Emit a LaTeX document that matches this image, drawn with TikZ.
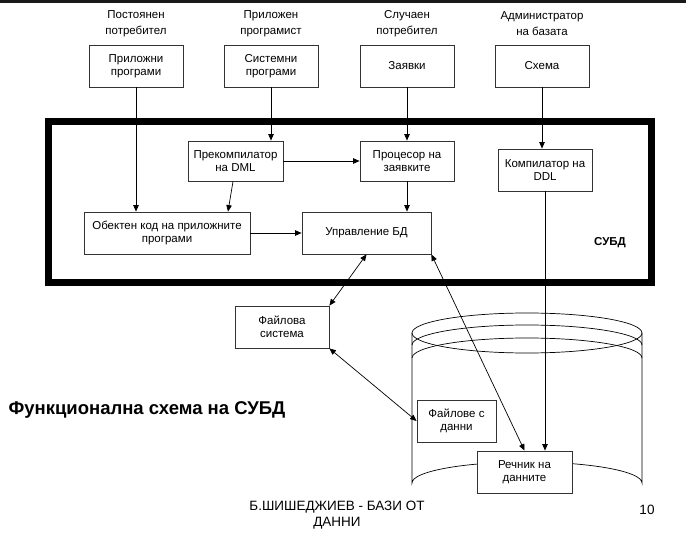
\documentclass[tikz,border=0pt]{standalone}
\usepackage{fontspec}
\setmainfont{Liberation Sans}
\usetikzlibrary{arrows.meta}

\begin{document}
\begin{tikzpicture}[x=1pt,y=-1pt,
    procbox/.style={shape=rectangle,draw=black!80,line width=0.8pt,fill=white,align=center,inner sep=1pt,font=\fontsize{11.5}{13.5}\selectfont},
    userlbl/.style={align=center,font=\fontsize{11.5}{16}\selectfont},
    flow/.style={line width=0.7pt,-{Triangle[length=6.5pt,width=5.5pt]}},
    bothflow/.style={line width=0.7pt,{Triangle[length=6.5pt,width=5.5pt]}-{Triangle[length=6.5pt,width=5.5pt]}}]
    \useasboundingbox (0,0) rectangle (686,540);
    \fill[black!90] (0,0) rectangle (686,3);
    % users and their inputs
    \node[userlbl] (u1) at (136,24) {Постоянен\\потребител};
    \node[userlbl] (u2) at (271,24) {Приложен\\програмист};
    \node[userlbl] (u3) at (407,24) {Случаен\\потребител};
    \node[userlbl] (u4) at (542,24) {Администратор\\на базата};
    \node[procbox,minimum width=94,minimum height=42] (app) at (136,66) {Приложни\\програми};
    \node[procbox,minimum width=94,minimum height=42] (sys) at (271,66) {Системни\\програми};
    \node[procbox,minimum width=94,minimum height=42] (qry) at (407,66) {Заявки};
    \node[procbox,minimum width=94,minimum height=42] (sch) at (542,66) {Схема};
    % the DBMS frame
    \draw[line width=7pt] (48.5,121.5) rectangle (651.5,282.5);
    \node[font=\bfseries\fontsize{11.5}{13}\selectfont] (dbms) at (610,243) {СУБД};
    \node[procbox,minimum width=95,minimum height=40] (prek) at (235.5,161) {Прекомпилатор\\на DML};
    \node[procbox,minimum width=94,minimum height=40] (proc) at (407,161) {Процесор на\\заявките};
    \node[procbox,minimum width=94,minimum height=42] (comp) at (545,170) {Компилатор на\\DDL};
    \node[procbox,minimum width=166,minimum height=42] (obj) at (167,233) {Обектен код на приложните\\програми};
    \node[procbox,minimum width=129,minimum height=42] (upr) at (366.5,233) {Управление БД};
    % storage
    \draw[line width=0.7pt,fill=white] (412,333) -- (412,483) arc[start angle=180,end angle=360,x radius=115,y radius=21] -- (642,333);
    \draw[line width=0.7pt] (527,333) ellipse[x radius=115,y radius=20];
    \draw[line width=0.7pt] (412,345) arc[start angle=180,end angle=360,x radius=115,y radius=20];
    \draw[line width=0.7pt] (412,358) arc[start angle=180,end angle=360,x radius=115,y radius=20];
    \node[procbox,minimum width=94,minimum height=42] (fs) at (282,327) {Файлова\\система};
    \node[procbox,minimum width=79,minimum height=42] (fd) at (456.5,421) {Файлове с\\данни};
    \node[procbox,minimum width=95,minimum height=42] (rech) at (524.5,472) {Речник на\\данните};
    % connectors
    \draw[flow] (app.south) -- (app.south |- obj.north);
    \draw[flow] (sys.south) -- (sys.south |- prek.north);
    \draw[flow] (qry.south) -- (qry.south |- proc.north);
    \draw[flow] (sch.south) -- (sch.south |- comp.north);
    \draw[flow] (prek.east) -- (proc.west);
    \draw[flow] ([xshift=-2.5]prek.south) -- ([xshift=61]obj.north);
    \draw[flow] (proc.south) -- (proc.south |- upr.north);
    \draw[flow] (obj.east) -- (upr.west);
    \draw[flow] (comp.south) -- (comp.south |- rech.north);
    \draw[bothflow] (upr.south) -- (fs.north east);
    \draw[bothflow] (upr.south east) -- (rech.north);
    \draw[bothflow] (fs.south east) -- (fd.west);
    % captions
    \node[anchor=west,font=\bfseries\fontsize{18.5}{22}\selectfont] (title) at (5,410) {Функционална схема на СУБД};
    \node[align=center,font=\fontsize{13.5}{16}\selectfont] (foot) at (337,515) {Б.ШИШЕДЖИЕВ - БАЗИ ОТ\\ДАННИ};
    \node[font=\fontsize{13.5}{16}\selectfont] (pgno) at (647,510) {10};
\end{tikzpicture}
\end{document}
